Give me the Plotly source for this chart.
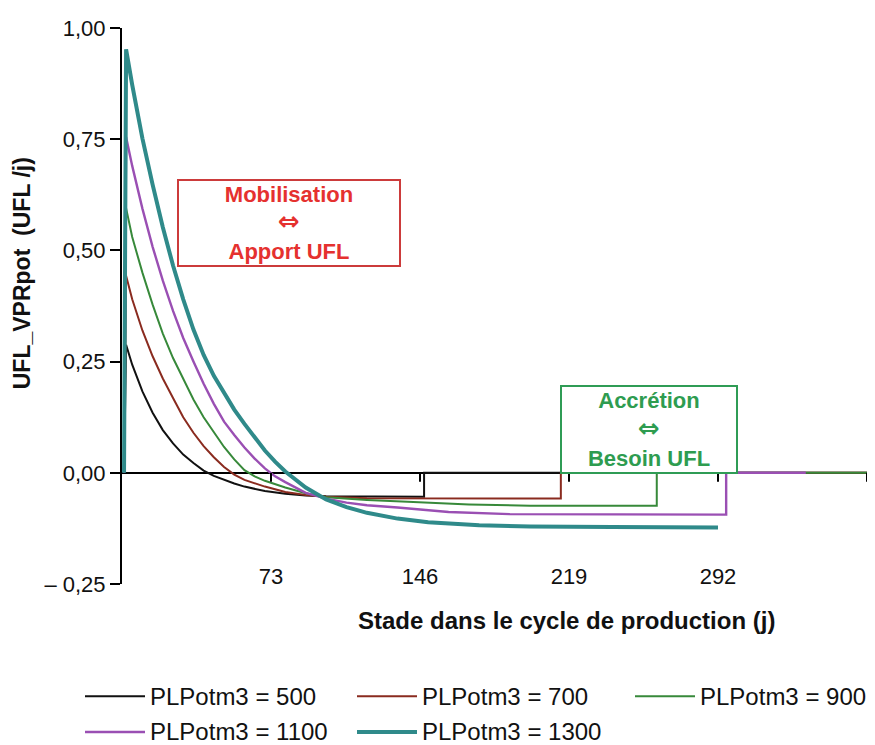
import plotly.graph_objects as go

# ---------------- data ----------------
series_names = ["PLPotm3 = 500", "PLPotm3 = 700", "PLPotm3 = 900", "PLPotm3 = 1100", "PLPotm3 = 1300"]

days_500 = [1, 2, 5, 7.5, 10, 15, 20, 25, 30, 35, 40, 45, 50, 55, 60, 70, 80, 90, 100, 120, 148, 148, 365]
ufl_500 = [0, 0.288, 0.243, 0.212, 0.183, 0.135, 0.096, 0.066, 0.041, 0.022, 0.005, -0.007, -0.016, -0.024,
           -0.031, -0.041, -0.047, -0.051, -0.053, -0.054, -0.054, 0, 0]

days_700 = [1, 2, 5, 7.5, 10, 15, 20, 25, 30, 35, 40, 45, 50, 55, 60, 70, 80, 90, 100, 120, 215, 215, 365]
ufl_700 = [0, 0.443, 0.39, 0.355, 0.32, 0.262, 0.212, 0.168, 0.125, 0.09, 0.06, 0.035, 0.013, -0.004,
           -0.016, -0.031, -0.043, -0.05, -0.054, -0.057, -0.058, 0, 0]

days_900 = [1, 2, 5, 7.5, 10, 15, 20, 25, 30, 35, 40, 45, 50, 55, 60, 65, 70, 80, 90, 100, 120, 140, 170,
            200, 262, 262, 365]
ufl_900 = [0, 0.595, 0.53, 0.49, 0.45, 0.378, 0.313, 0.258, 0.21, 0.165, 0.125, 0.09, 0.058, 0.03, 0.006,
           -0.008, -0.018, -0.033, -0.046, -0.055, -0.061, -0.065, -0.071, -0.074, -0.074, 0, 0]

days_1100 = [1, 2, 5, 7.5, 10, 15, 20, 25, 30, 35, 40, 45, 50, 55, 60, 65, 70, 75, 80, 90, 100, 110, 120,
             135, 160, 190, 296, 296, 335]
ufl_1100 = [0, 0.755, 0.69, 0.64, 0.594, 0.508, 0.432, 0.364, 0.303, 0.25, 0.20, 0.155, 0.115, 0.085,
            0.057, 0.032, 0.01, -0.008, -0.021, -0.045, -0.058, -0.067, -0.073, -0.078, -0.088, -0.093,
            -0.094, 0, 0]

days_1300 = [1, 2, 5, 7.5, 10, 15, 20, 25, 30, 35, 40, 45, 50, 55, 60, 65, 70, 75, 80, 90, 100, 110, 120,
             135, 150, 175, 200, 240, 292]
ufl_1300 = [0, 0.952, 0.872, 0.81, 0.752, 0.648, 0.552, 0.466, 0.39, 0.322, 0.265, 0.218, 0.178, 0.142,
            0.11, 0.08, 0.05, 0.025, 0.003, -0.033, -0.06, -0.077, -0.09, -0.103, -0.111, -0.118, -0.121,
            -0.122, -0.123]

x_tick_vals = [73, 146, 219, 292]
x_tick_text = ["73", "146", "219", "292"]
x_tick_marks = [73, 146, 219, 292, 365]
y_tick_vals = [-0.25, 0, 0.25, 0.5, 0.75, 1.0]
y_tick_text = ["\u2013 0,25", "0,00", "0,25", "0,50", "0,75", "1,00"]

# ---------------- style ----------------
series_days = [days_500, days_700, days_900, days_1100, days_1300]
series_vals = [ufl_500, ufl_700, ufl_900, ufl_1100, ufl_1300]
series_colors = ["#111111", "#8a2b1f", "#37893a", "#9a4fb3", "#2f8a8a"]
series_widths = [2, 2, 2, 2.4, 4]

FONT = "Liberation Sans, Arial, sans-serif"
OFF = 8                      # page body margin
W, H = 867, 737
L, R, T, B = 114, 8, 16, 161
PW, PH = W - L - R, H - T - B


def pxx(x):
    """page pixel x -> paper x"""
    return (x - OFF - L) / PW


def pxy(y):
    """page pixel y -> paper y"""
    return (OFF + T + PH - y) / PH


fig = go.Figure()
for name, d, v, c, w in zip(series_names, series_days, series_vals, series_colors, series_widths):
    fig.add_trace(go.Scatter(x=d, y=v, mode="lines", name=name,
                             line=dict(color=c, width=w), showlegend=False))

shapes = []
# tick marks on the zero line
for xv in x_tick_marks:
    shapes.append(dict(type="line", xref="x", yref="y", ysizemode="pixel", yanchor=0,
                       x0=xv, x1=xv, y0=0, y1=-9, line=dict(color="black", width=2)))

annotations = []
# manual legend
leg_cols = [85, 357, 635]
leg_rows = [697, 733]
for i, (name, c, w) in enumerate(zip(series_names, series_colors, series_widths)):
    r, col = divmod(i, 3)
    x0 = leg_cols[col]
    yy = leg_rows[r]
    shapes.append(dict(type="line", xref="paper", yref="paper",
                       x0=pxx(x0), x1=pxx(x0 + 60), y0=pxy(yy), y1=pxy(yy),
                       line=dict(color=c, width=w)))
    annotations.append(dict(xref="paper", yref="paper", x=pxx(x0 + 63), y=pxy(yy),
                            xanchor="left", yanchor="middle", showarrow=False, text=name,
                            font=dict(family=FONT, size=24, color="#111111")))

# axis titles
annotations.append(dict(xref="paper", yref="paper", x=pxx(22), y=pxy(271), textangle=-90,
                        showarrow=False, text="<b>UFL_VPRpot  (UFL /j)</b>",
                        font=dict(family=FONT, size=23, color="#111111"),
                        xanchor="center", yanchor="middle"))
annotations.append(dict(xref="paper", yref="paper", x=pxx(566), y=pxy(621),
                        showarrow=False, text="<b>Stade dans le cycle de production (j)</b>",
                        font=dict(family=FONT, size=24, color="#111111"),
                        xanchor="center", yanchor="middle"))

ARROW = "<span style=\"font-family:'DejaVu Sans';font-size:26px\">\u21d4</span>"

# boxes
annotations.append(dict(xref="paper", yref="paper", x=pxx(288.5), y=pxy(220.5),
                        xanchor="center", yanchor="middle", showarrow=False,
                        text="<b>Mobilisation<br>" + ARROW + "<br>Apport UFL</b>",
                        width=220, height=84, borderpad=0, borderwidth=2,
                        bordercolor="#cc3b3b", bgcolor="white",
                        font=dict(family=FONT, size=22, color="#e5312f")))
annotations.append(dict(xref="paper", yref="paper", x=pxx(648.5), y=pxy(428),
                        xanchor="center", yanchor="middle", showarrow=False,
                        text="<b>Accrétion<br>" + ARROW + "<br>Besoin UFL</b>",
                        width=174, height=85, borderpad=0, borderwidth=2,
                        bordercolor="#2f9c55", bgcolor="white",
                        font=dict(family=FONT, size=22, color="#2e9c50")))

fig.update_layout(
    width=W, height=H,
    margin=dict(l=L, r=R, t=T, b=B, pad=0),
    paper_bgcolor="white", plot_bgcolor="white",
    showlegend=False,
    shapes=shapes, annotations=annotations,
    xaxis=dict(range=[0, 365], showgrid=False, zeroline=False, showline=False, ticks="",
               tickvals=x_tick_vals, ticktext=x_tick_text, ticklabelstandoff=-23,
               tickfont=dict(family=FONT, size=22, color="#111111")),
    yaxis=dict(range=[-0.25, 1.0], showgrid=False, zeroline=True, zerolinecolor="black",
               zerolinewidth=2, showline=True, linecolor="black", linewidth=2,
               ticks="outside", ticklen=10, tickwidth=2, tickcolor="black",
               tickvals=y_tick_vals, ticktext=y_tick_text, layer="below traces",
               tickfont=dict(family=FONT, size=22, color="#111111")),
)

fig.write_html("out.html")
